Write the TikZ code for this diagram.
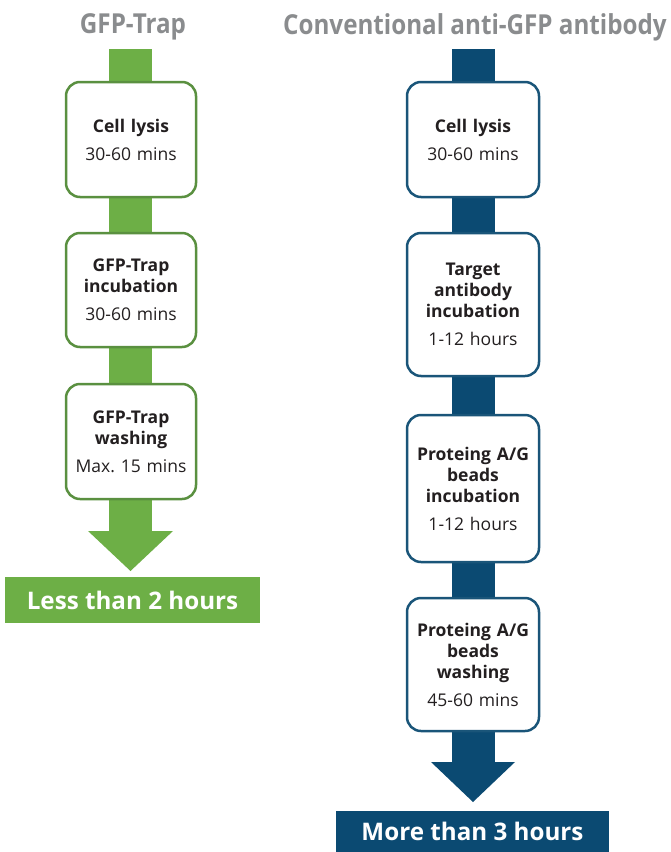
\documentclass[tikz,border=0pt]{standalone}
\usepackage{fontspec}
\setmainfont{Open Sans}
\newfontfamily\titlefont[FakeStretch=0.88]{Open Sans}
\usepackage{tikz}
\usetikzlibrary{calc}

\definecolor{gfpgreen}{HTML}{6DAF46}
\definecolor{gfpdark}{HTML}{5A9040}
\definecolor{abblue}{HTML}{0B4A72}
\definecolor{abdark}{HTML}{1A5579}
\definecolor{titlegray}{HTML}{8A8C8E}
\definecolor{textdark}{HTML}{231F20}

\frenchspacing
\begin{document}
\begin{tikzpicture}[x=1pt,y=-1pt]
\tikzstyle{title}=[font=\titlefont\bfseries\fontsize{27.5}{30}\selectfont,text=titlegray]
\tikzstyle{gbox}=[draw=gfpdark,line width=2.5pt,fill=white,rounded corners=14pt,text width=118pt,inner sep=6pt,align=center,text=textdark,font=\fontsize{17.5}{21}\selectfont]
\tikzstyle{abox}=[gbox,draw=abdark,text width=120pt]
\tikzstyle{banner}=[inner sep=0pt,text=white,font=\bfseries\fontsize{24.2}{28}\selectfont]

\useasboundingbox (0,0) rectangle (670,852);

% titles
\node[title] (gtitle) at (133,27) {GFP-Trap};
\node[title] (atitle) at (475,27) {Conventional anti-GFP antibody};

% GFP-Trap arrow
\coordinate (gtop) at (130.5,49);
\coordinate (gtip) at (130.5,571);
\fill[gfpgreen] ($(gtop)+(-21.5,0)$) rectangle ($(gtip)+(21.5,-40)$);
\fill[gfpgreen] ($(gtip)+(-42.5,-40)$) -- ($(gtip)+(42.5,-40)$) -- (gtip) -- cycle;

% antibody arrow
\coordinate (atop) at (473,49);
\coordinate (atip) at (473,802);
\fill[abblue] ($(atop)+(-21.5,0)$) rectangle ($(atip)+(21.5,-40)$);
\fill[abblue] ($(atip)+(-42,-40)$) -- ($(atip)+(42,-40)$) -- (atip) -- cycle;

% GFP-Trap steps
\node[gbox,minimum height=115pt] (g1) at (131,139.5) {\textbf{Cell lysis}\\[7pt]30-60 mins};
\node[gbox,minimum height=114pt] (g2) at (131,290) {\textbf{GFP-Trap}\\\textbf{incubation}\\[7pt]30-60 mins};
\node[gbox,minimum height=115pt] (g3) at (131,441.5) {\textbf{GFP-Trap}\\\textbf{washing}\\[7pt]Max. 15 mins};

% antibody steps
\node[abox,minimum height=115pt] (a1) at (473,139.5) {\textbf{Cell lysis}\\[7pt]30-60 mins};
\node[abox,minimum height=143pt] (a2) at (473,304.5) {\textbf{Target}\\\textbf{antibody}\\\textbf{incubation}\\[7pt]1-12 hours};
\node[abox,minimum height=147pt] (a3) at (473,488.5) {\textbf{Proteing A/G}\\\textbf{beads}\\\textbf{incubation}\\[7pt]1-12 hours};
\node[abox,minimum height=133pt] (a4) at (473,664.5) {\textbf{Proteing A/G}\\\textbf{beads}\\\textbf{washing}\\[7pt]45-60 mins};

% totals
\node[banner,fill=gfpgreen,minimum width=255pt,minimum height=46pt] (gtotal) at (132.5,600) {Less than 2 hours};
\node[banner,fill=abblue,minimum width=273pt,minimum height=41pt] (atotal) at (472.5,831.5) {More than 3 hours};
\end{tikzpicture}
\end{document}
